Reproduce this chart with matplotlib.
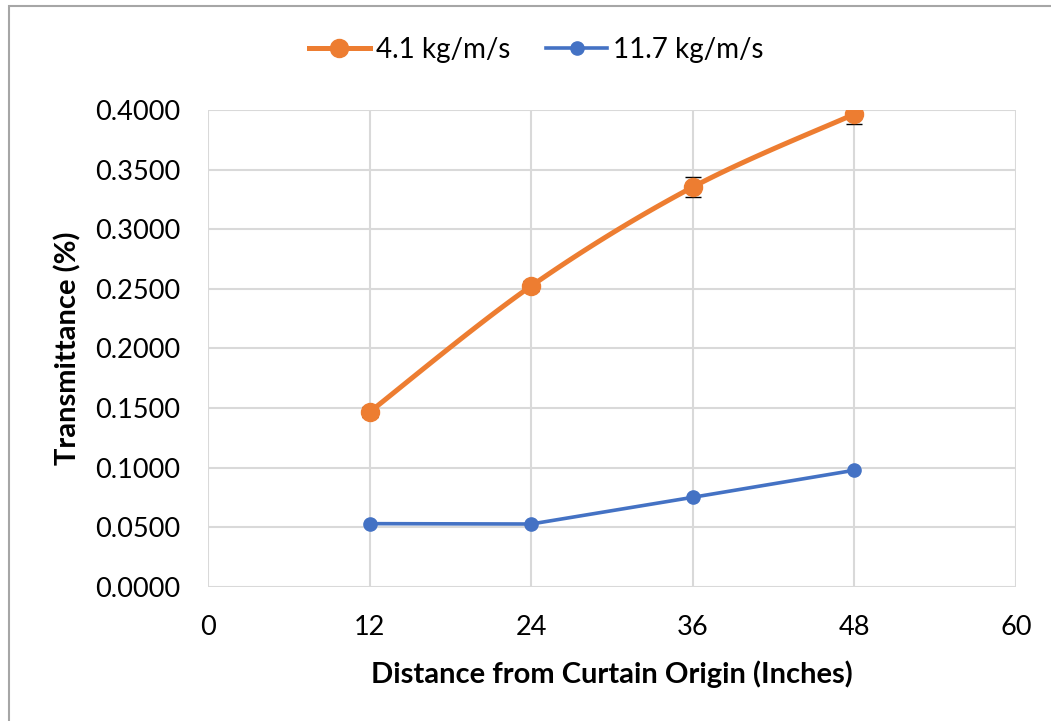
import numpy as np
import matplotlib.pyplot as plt

plt.rcParams['font.family'] = ['Lato', 'DejaVu Sans']

distance = [12, 24, 36, 48]
trans_low = [0.1467, 0.2524, 0.3354, 0.3966]
err_low = [0.004, 0.004, 0.0081, 0.0086]
trans_high = [0.0531, 0.0528, 0.0752, 0.0979]
labels = ["4.1 kg/m/s", "11.7 kg/m/s"]
xticks = [0, 12, 24, 36, 48, 60]
yticks = [0.0, 0.05, 0.10, 0.15, 0.20, 0.25, 0.30, 0.35, 0.40]

orange = "#ED7D31"
blue = "#4472C4"


def smooth(x, y, n=40):
    # Catmull-Rom curve through the points (spreadsheet-style smoothed line)
    x = np.asarray(x, float)
    y = np.asarray(y, float)
    px = np.concatenate([[x[0]], x, [x[-1]]])
    py = np.concatenate([[y[0]], y, [y[-1]]])
    xs, ys = [], []
    t = np.linspace(0, 1, n)
    for i in range(1, len(px) - 2):
        for p, out in ((px, xs), (py, ys)):
            p0, p1, p2, p3 = p[i - 1], p[i], p[i + 1], p[i + 2]
            c1 = p1 + (p2 - p0) / 6
            c2 = p2 - (p3 - p1) / 6
            out.extend((1 - t) ** 3 * p1 + 3 * (1 - t) ** 2 * t * c1
                       + 3 * (1 - t) * t ** 2 * c2 + t ** 3 * p2)
    return np.array(xs), np.array(ys)


fig = plt.figure(figsize=(10.51, 7.21), dpi=100)
ax = fig.add_axes([0.1979, 0.1859, 0.7688, 0.6615])

# chart area border
fig.patches.append(plt.Rectangle((9 / 1051, -0.1), 1.2, 1 - 6 / 721 + 0.1,
                                 transform=fig.transFigure, fill=False,
                                 edgecolor="#A6A6A6", lw=1.5))

ax.errorbar(distance, trans_low, yerr=err_low, fmt="none", ecolor="black",
            elinewidth=1, capsize=6, capthick=1, zorder=3)
sx, sy = smooth(distance, trans_low)
ax.plot(sx, sy, color=orange, lw=3.6, solid_capstyle="round", zorder=4)
ax.plot(distance, trans_low, "o", color=orange, ms=13, zorder=5)
ax.plot(distance, trans_high, "-o", color=blue, lw=2.6, ms=9.5, zorder=4)

h1 = plt.Line2D([], [], color=orange, lw=3.6, marker="o", ms=13)
h2 = plt.Line2D([], [], color=blue, lw=2.6, marker="o", ms=9.5)
fig.legend([h1, h2], labels, loc="center", bbox_to_anchor=(0.51, 0.931),
           ncol=2, frameon=False, fontsize=20, handlelength=2.2,
           handletextpad=0.2, columnspacing=1.3)

ax.set_xlim(0, 60)
ax.set_ylim(0, 0.4)
ax.set_xticks(xticks)
ax.set_yticks(yticks)
ax.set_yticklabels([f"{v:.4f}" for v in yticks])
ax.tick_params(length=0, labelsize=19.5, pad=20)
ax.grid(True, color="#D9D9D9", lw=1.5)
ax.set_axisbelow(True)
for s in ax.spines.values():
    s.set_visible(False)

ax.set_xlabel("Distance from Curtain Origin (Inches)", fontsize=21,
              fontweight="bold", labelpad=15)
ax.set_ylabel("Transmittance (%)", fontsize=21, fontweight="bold",
              labelpad=10)

fig.savefig("out.png", dpi=100)
